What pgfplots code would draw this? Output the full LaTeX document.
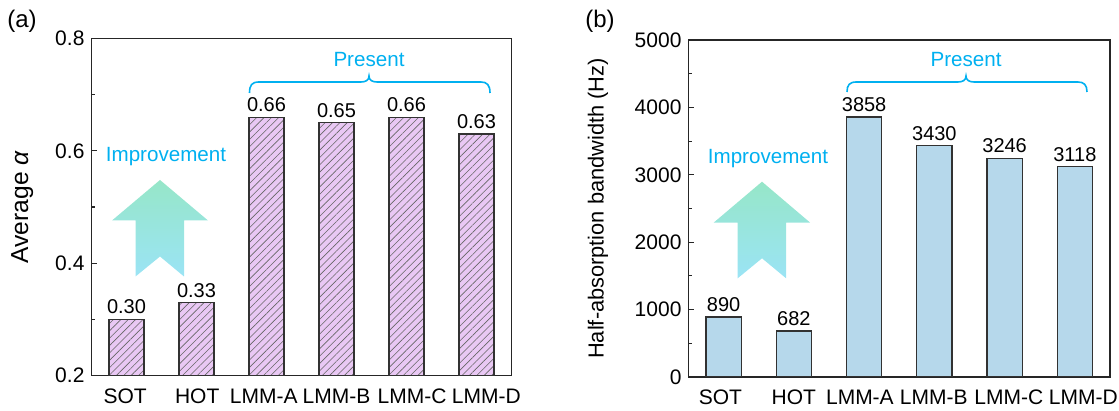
\documentclass[border=0pt]{standalone}
\usepackage{fontspec}
\setmainfont{Liberation Sans}
\usepackage{pgfplots}
\pgfplotsset{compat=1.18}
\usetikzlibrary{patterns.meta}
\definecolor{pinkc}{RGB}{233,200,244}
\definecolor{bluec}{RGB}{182,216,235}
\definecolor{edgec}{RGB}{50,50,50}
\definecolor{txtblue}{RGB}{0,176,240}
\definecolor{arrtop}{RGB}{150,230,200}
\definecolor{arrbot}{RGB}{155,228,245}
\begin{document}
\begin{tikzpicture}
\useasboundingbox (0,0) rectangle (559.5pt,205.5pt);
\pgfplotsset{
  myaxis/.style={
    scale only axis,
    ybar,
    bar width=0.5,
    xmin=-0.5, xmax=5.5,
    xticklabels={SOT,HOT,LMM-A,LMM-B,LMM-C,LMM-D},
    x tick style={draw=none},
    ytick pos=left,
    tick align=inside,
    major tick length=2.5pt,
    minor tick length=1.5pt,
    axis line style={line width=0.8pt, draw=black!85},
    every tick/.style={line width=0.6pt, black!85},
    /pgf/number format/assume math mode=true,
    /pgf/number format/1000 sep={},
    scaled y ticks=false,
    ticklabel style={font=\fontsize{10.5}{12}\selectfont},
    xticklabel style={yshift=-3pt},
    nodes near coords,
    every node near coord/.append style={font=\fontsize{10}{12}\selectfont, black, yshift=-1pt},
  }
}
% Panel (a)
\begin{axis}[myaxis,
  at={(45.75pt,17.75pt)}, anchor=south west,
  width=210pt, height=168.5pt,
  xtick={-0.02,1.01,1.96,3.0,4.08,5.14},
  ymin=0.2, ymax=0.8,
  ytick={0.2,0.4,0.6,0.8},
  minor ytick={0.3,0.5,0.7},
  yticklabel style={/pgf/number format/fixed, /pgf/number format/precision=1},
  ylabel={Average \textit{α}},
  ylabel style={at={(axis description cs:-0.165,0.5)}, anchor=center, font=\fontsize{12.3}{14}\selectfont},
  nodes near coords={\pgfmathprintnumber[fixed,fixed zerofill,precision=2]{\pgfplotspointmeta}},
]
\addplot[draw=edgec, line width=0.6pt, fill=pinkc,
  postaction={pattern={Lines[angle=45,distance=2.6pt,line width=0.3pt]}, pattern color=black!60}]
  coordinates {(0,0.30) (1,0.33) (2,0.66) (3,0.65) (4,0.66) (5,0.63)};
\end{axis}
% Panel (b)
\begin{axis}[myaxis,
  at={(344.25pt,17.0pt)}, anchor=south west,
  width=210.75pt, height=168.5pt,
  xtick={-0.046,0,1.94,2.99,4.06,5.12},
  xtick={-0.046,1.0,1.94,2.99,4.06,5.12},
  ymin=0, ymax=5000,
  ytick={0,1000,2000,3000,4000,5000},
  minor ytick={500,1500,2500,3500,4500},
  ylabel={Half-absorption bandwidth (Hz)},
  ylabel style={at={(axis description cs:-0.2147,0.5)}, anchor=center, font=\fontsize{10.9}{13}\selectfont},
  nodes near coords={\pgfmathprintnumber[fixed,precision=0]{\pgfplotspointmeta}},
]
\addplot[draw=edgec, line width=0.6pt, fill=bluec]
  coordinates {(0,890) (1,682) (2,3858) (3,3430) (4,3246) (5,3118)};
\end{axis}
% Annotations (pixel coordinates of the reference image)
\begin{scope}[x=0.5pt, y=-0.5pt, shift={(0pt,205.5pt)}]
  \node[font=\fontsize{12}{14}\selectfont] at (22,21) {(a)};
  \node[font=\fontsize{12}{14}\selectfont] at (600,21) {(b)};
  % arrows
  \shade[top color=arrtop, bottom color=arrbot]
    (160,180) -- (208,220.5) -- (184,220.5) -- (184,276.5) -- (160,256.5) -- (135.5,276.5) -- (135.5,220.5) -- (112,220.5) -- cycle;
  \shade[top color=arrtop, bottom color=arrbot]
    (762,181.7) -- (810.2,222.7) -- (786.1,222.7) -- (786.1,278.3) -- (762,258.3) -- (737.7,278.3) -- (737.7,222.7) -- (713.6,222.7) -- cycle;
  \node[text=txtblue, font=\fontsize{10.3}{12}\selectfont] at (166,156.7) {Improvement};
  \node[text=txtblue, font=\fontsize{10.3}{12}\selectfont] at (768,158.3) {Improvement};
  \node[text=txtblue, font=\fontsize{10.3}{12}\selectfont] at (369,60) {Present};
  \node[text=txtblue, font=\fontsize{10.3}{12}\selectfont] at (966,60) {Present};
  % braces
  \draw[txtblue, line width=0.8pt]
    (249.5,93) .. controls (249.5,85) and (252,82) .. (259,82) -- (361,82)
    .. controls (366,82) and (369,80) .. (369,76)
    .. controls (369,80) and (372,82) .. (377,82) -- (481,82)
    .. controls (487,82) and (490,85) .. (490,93);
  \draw[txtblue, line width=0.8pt]
    (847,92) .. controls (847,85) and (849.5,82) .. (856.5,82) -- (958,82)
    .. controls (963,82) and (966,80) .. (966,76)
    .. controls (966,80) and (969,82) .. (974,82) -- (1078,82)
    .. controls (1084,82) and (1087,85) .. (1087,92);
\end{scope}
\end{tikzpicture}
\end{document}
